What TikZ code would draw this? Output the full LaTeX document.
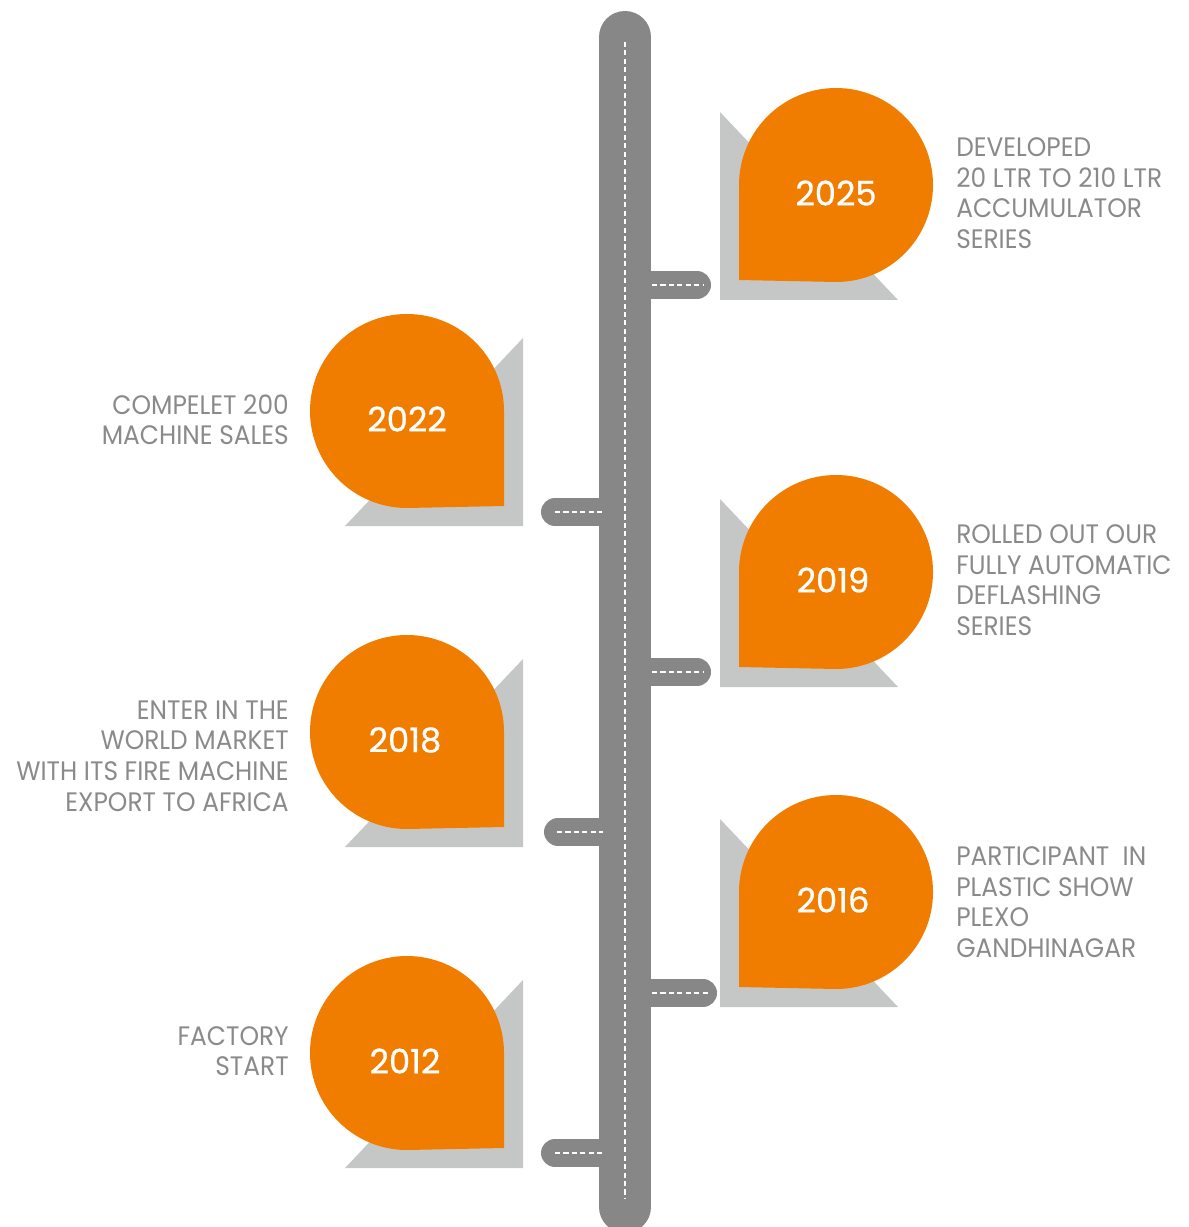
\documentclass[tikz,border=0pt]{standalone}
\usepackage{fontspec}
\setmainfont{Poppins}
\newfontfamily\yearfont[FakeBold=0.8]{Poppins}
\newfontfamily\notefont[FakeStretch=0.93]{Poppins}

\definecolor{roadgray}{HTML}{878787}
\definecolor{trigray}{HTML}{C5C7C6}
\definecolor{droporange}{HTML}{F07C00}
\definecolor{notegray}{HTML}{8A8A8A}

\begin{document}
\begin{tikzpicture}[x=0.025cm, y=-0.025cm,
  road/.style={line width=52*0.7113pt, draw=roadgray, line cap=round},
  spur/.style={line width=28*0.7113pt, draw=roadgray, line cap=round},
  lane/.style={line width=1.1pt, draw=white, dash pattern=on 3.6pt off 2.4pt},
  backtri/.style={fill=trigray},
  blob/.style={fill=droporange},
  yeartext/.style={text=white, font=\yearfont\fontsize{24}{28}\selectfont, inner sep=0pt},
  notetext/.style={text=notegray, font=\notefont\fontsize{19}{21.7}\selectfont, inner sep=0pt},
  pics/marker/.style={code={
    \fill[backtri] (-116,-73) -- (-116,115) -- (62,115) -- cycle;
    \fill[blob] (-97,0) arc[start angle=180, end angle=450, radius=97] -- (-97,95) -- cycle;
  }}]
\useasboundingbox (0,0) rectangle (1188,1227);

\coordinate (top) at (625,37);
\coordinate (bottom) at (625,1207);
\draw[road] (top) -- (bottom);

\coordinate (s2025) at (625,285);
\coordinate (e2025) at (697,285);
\coordinate (s2022) at (625,512);
\coordinate (e2022) at (555,512);
\coordinate (s2019) at (625,672);
\coordinate (e2019) at (697,672);
\coordinate (s2018) at (625,832);
\coordinate (e2018) at (558,832);
\coordinate (s2016) at (625,993);
\coordinate (e2016) at (703,993);
\coordinate (s2012) at (625,1153);
\coordinate (e2012) at (555,1153);

\draw[spur] (s2025) -- (e2025);
\draw[spur] (s2022) -- (e2022);
\draw[spur] (s2019) -- (e2019);
\draw[spur] (s2018) -- (e2018);
\draw[spur] (s2016) -- (e2016);
\draw[spur] (s2012) -- (e2012);

\draw[lane] (625,42) -- (625,1198);
\draw[lane] (652,285) -- (703,285);
\draw[lane] (555,512) -- (603,512);
\draw[lane] (652,672) -- (703,672);
\draw[lane] (557,832) -- (603,832);
\draw[lane] (652,993) -- (709,993);
\draw[lane] (555,1153) -- (603,1153);

\pic at (836,185) {marker};
\pic at (836,572) {marker};
\pic at (836,892) {marker};
\pic[xscale=-1] at (407,411) {marker};
\pic[xscale=-1] at (407,732) {marker};
\pic[xscale=-1] at (407,1053) {marker};

\node[yeartext] (y2025) at (836,193) {2025};
\node[yeartext] (y2019) at (833,580) {2019};
\node[yeartext] (y2016) at (833,900) {2016};
\node[yeartext] (y2022) at (407,419) {2022};
\node[yeartext] (y2018) at (405,740) {2018};
\node[yeartext] (y2012) at (405,1061) {2012};

\node[notetext, anchor=west, align=left] (t2025) at (956,193)
  {DEVELOPED\\20 LTR TO 210 LTR\\ACCUMULATOR\\SERIES};
\node[notetext, anchor=west, align=left] (t2019) at (956,580)
  {ROLLED OUT OUR\\FULLY AUTOMATIC\\DEFLASHING\\SERIES};
\node[notetext, anchor=west, align=left] (t2016) at (956,902)
  {PARTICIPANT\ \ IN\\PLASTIC SHOW\\PLEXO\\GANDHINAGAR};
\node[notetext, anchor=east, align=right] (t2022) at (289,420)
  {COMPELET 200\\MACHINE SALES};
\node[notetext, anchor=east, align=right] (t2018) at (289,756)
  {ENTER IN THE\\WORLD MARKET\\WITH ITS FIRE MACHINE\\EXPORT TO AFRICA};
\node[notetext, anchor=east, align=right] (t2012) at (289,1051)
  {FACTORY\\START};
\end{tikzpicture}
\end{document}
